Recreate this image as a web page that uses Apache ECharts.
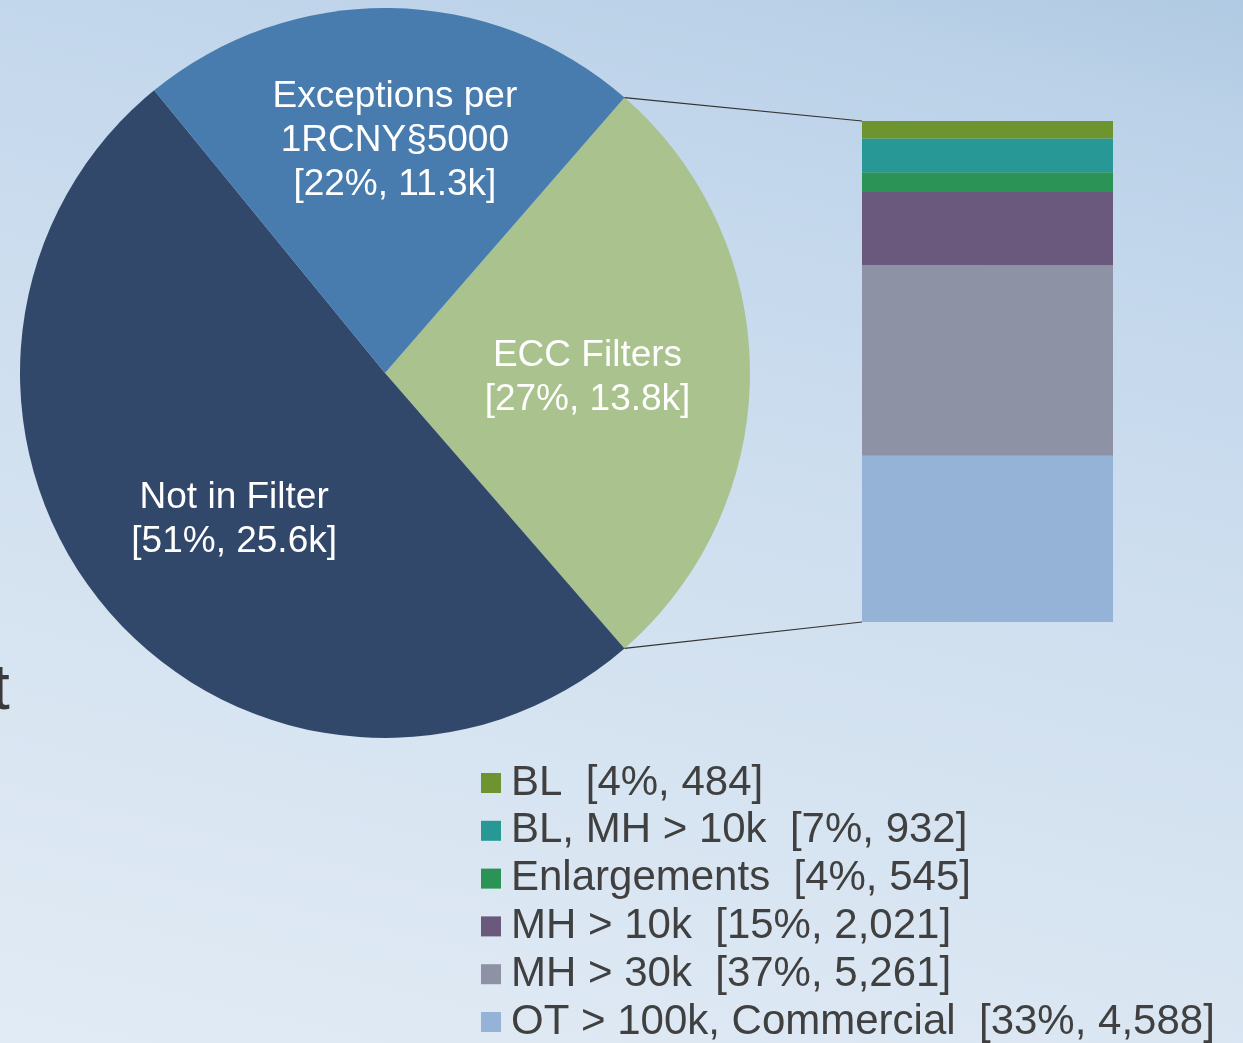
<!DOCTYPE html>
<html>
<head>
<meta charset="utf-8">
<script src="https://cdn.jsdelivr.net/npm/echarts@6/dist/echarts.min.js"></script>
<style>
  html, body { margin: 0; padding: 0; }
  #main { width: 1243px; height: 1043px; }
</style>
</head>
<body>
<div id="main"></div>
<script>
// pie: top level split
const pieNames = ['ECC Filters', 'Not in Filter', 'Exceptions per\n1RCNY§5000']
const pieValues = [13.8, 25.6, 11.3]
const piePercents = ['27%', '51%', '22%']
const pieColors = ['#A9C28E', '#32486B', '#497CAE']

// bar: breakdown of ECC Filters, bottom to top
const barNames = ['OT > 100k, Commercial', 'MH > 30k', 'MH > 10k', 'Enlargements', 'BL, MH > 10k', 'BL']
const barValues = [4588, 5261, 2021, 545, 932, 484]
const barPercents = ['33%', '37%', '15%', '4%', '7%', '4%']
const barColors = ['#95B3D7', '#8D93A5', '#6A597D', '#2B9355', '#289896', '#6E9430']

const labelOffsets = [[17, 5], [-9, 27], [7, -47]]

const font = 'Liberation Sans, Arial, sans-serif'
const chart = echarts.init(document.getElementById('main'))

const pieCenter = [385, 373]
const pieRadius = 365
const pieTotal = pieValues.reduce((a, b) => a + b, 0)
const eccAngle = pieValues[0] / pieTotal * 360
const startAngle = eccAngle / 2
const barTotal = barValues.reduce((a, b) => a + b, 0)

const gridLeft = 862
const gridWidth = 251
const gridTop = 121
const gridBottom = 1043 - 622

const fmtNum = v => v.toLocaleString('en-US')

const background = {
  type: 'rect', z: -10, silent: true,
  shape: { x: 0, y: 0, width: 1243, height: 1043 },
  style: {
    fill: new echarts.graphic.LinearGradient(0.622, -0.11, 0.38, 1.1, [
      { offset: 0, color: '#B0CAE3' },
      { offset: 0.09, color: '#BAD1E7' },
      { offset: 0.22, color: '#C3D7EC' },
      { offset: 0.48, color: '#CFDFEF' },
      { offset: 0.79, color: '#DAE6F2' },
      { offset: 1, color: '#E1EBF5' }
    ])
  }
}
const strayText = {
  type: 'text', left: -8, top: 659,
  style: { text: 't', fill: '#3A3A3A', font: '64px ' + font }
}

chart.setOption({
  animation: false,
  graphic: [background, strayText],
  grid: { left: gridLeft, width: gridWidth, top: gridTop, bottom: gridBottom },
  xAxis: { type: 'category', data: ['ECC'], show: false },
  yAxis: { type: 'value', min: 0, max: barTotal, show: false },
  legend: {
    data: barNames.slice().reverse(),
    orient: 'vertical',
    left: 481,
    top: 762,
    height: 320,
    padding: 0,
    itemWidth: 20,
    itemHeight: 20,
    itemGap: 5.8,
    icon: 'rect',
    textStyle: { fontFamily: font, fontSize: 42, color: '#404040', padding: [0, 0, 0, 5] },
    formatter: name => {
      const i = barNames.indexOf(name)
      return name + '  [' + barPercents[i] + ', ' + fmtNum(barValues[i]) + ']'
    }
  },
  series: [
    {
      type: 'pie',
      center: pieCenter,
      radius: pieRadius,
      startAngle: startAngle,
      clockwise: true,
      label: {
        position: 'inside',
        color: '#fff',
        fontFamily: font,
        fontSize: 37,
        lineHeight: 44,
        align: 'center'
      },
      labelLine: { show: false },
      emphasis: { disabled: true },
      data: pieNames.map((n, i) => ({
        name: n,
        value: pieValues[i],
        itemStyle: { color: pieColors[i] },
        label: {
          formatter: n + '\n[' + piePercents[i] + ', ' + pieValues[i].toFixed(1) + 'k]',
          offset: labelOffsets[i]
        }
      }))
    },
    ...barNames.map((n, i) => ({
      type: 'bar',
      name: n,
      stack: 'ecc',
      barWidth: '100%',
      itemStyle: { color: barColors[i] },
      emphasis: { disabled: true },
      data: [barValues[i]]
    }))
  ]
})

// connector lines from the ECC slice edges to the bar corners
const rad = a => a * Math.PI / 180
const edge = a => [pieCenter[0] + pieRadius * Math.cos(rad(a)), pieCenter[1] - pieRadius * Math.sin(rad(a))]
const pTop = edge(startAngle)
const pBot = edge(startAngle - eccAngle)
const barTopY = chart.convertToPixel({ yAxisIndex: 0 }, barTotal)
const barBotY = chart.convertToPixel({ yAxisIndex: 0 }, 0)
chart.setOption({
  graphic: [
    background,
    strayText,
    { type: 'line', z: 5, silent: true, shape: { x1: pTop[0], y1: pTop[1], x2: gridLeft, y2: barTopY }, style: { stroke: '#333', lineWidth: 1.2 } },
    { type: 'line', z: 5, silent: true, shape: { x1: pBot[0], y1: pBot[1], x2: gridLeft, y2: barBotY }, style: { stroke: '#333', lineWidth: 1.2 } }
  ]
}, { replaceMerge: ['graphic'] })
</script>
</body>
</html>
